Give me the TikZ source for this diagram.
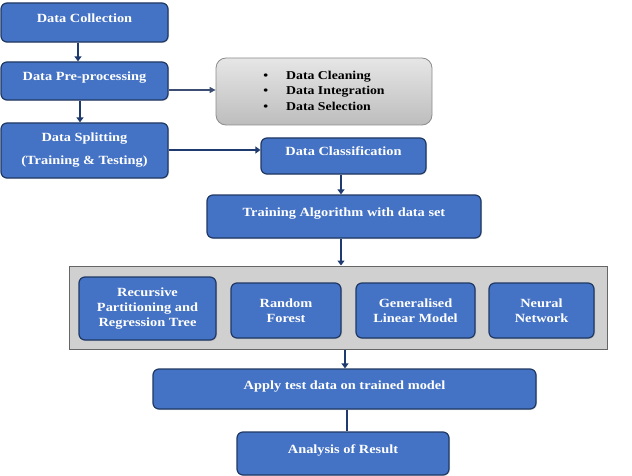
\documentclass[tikz,border=0pt]{standalone}
\usepackage{fontspec}
\setmainfont[FakeStretch=1.15]{Liberation Serif}
\usetikzlibrary{arrows.meta,shadows}
\definecolor{boxblue}{HTML}{4472C4}
\definecolor{boxline}{HTML}{1F3864}
\definecolor{arrowblue}{HTML}{1F3A6E}
\definecolor{graylight}{HTML}{E6E6E6}
\definecolor{graydark}{HTML}{BDBDBD}
\definecolor{grayline}{HTML}{8C8C8C}
\definecolor{panelgray}{HTML}{D0D0D0}
\tikzset{
  bluebox/.style={draw=boxline, line width=1.2pt, fill=boxblue, rounded corners=6pt,
    text=white, font=\fontsize{12.5}{15}\selectfont\bfseries, align=center, inner sep=0pt,
    drop shadow={shadow xshift=1pt, shadow yshift=-1pt, opacity=0.25}},
  onel/.style={text height=8pt, text depth=8pt},
  subbox/.style={bluebox, font=\fontsize{12.5}{15}\selectfont\bfseries},
  graybox/.style={draw=grayline, line width=0.8pt, top color=graylight, bottom color=graydark},
  flow/.style={draw=arrowblue, line width=2.2pt, -{Triangle[length=5pt,width=7pt]}},
  thinflow/.style={draw=arrowblue!70!gray, line width=1.2pt, -{Triangle[length=6pt,width=6pt]}},
  plainflow/.style={draw=arrowblue, line width=2.2pt}
}
\begin{document}
\begin{tikzpicture}[x=1pt,y=-1pt]
\useasboundingbox (0,0) rectangle (632,476);
% top-left column
\node[bluebox,onel,minimum width=167pt,minimum height=39pt] (dc) at (84.5,22.5) {Data Collection};
\node[bluebox,onel,minimum width=167pt,minimum height=38pt] (dp) at (84.5,81) {Data Pre-processing};
\node[bluebox,minimum width=167pt,minimum height=55pt] (ds) at (84.5,150.5)
  {Data Splitting\\[8pt](Training \& Testing)};
% preprocessing details
\node[graybox,rounded corners=10pt,minimum width=216pt,minimum height=67pt,inner sep=0pt,
  font=\fontsize{12}{15.5}\selectfont\bfseries] (pre) at (324,91.5)
  {\begin{tabular}{@{}c@{\hspace{18pt}}l@{}}\textbullet & Data Cleaning\\ \textbullet & Data Integration\\ \textbullet & Data Selection\end{tabular}};
% classification / training
\node[bluebox,onel,minimum width=165pt,minimum height=36pt] (cls) at (343.5,156) {Data Classification};
\node[bluebox,onel,minimum width=274pt,minimum height=43pt] (tr) at (344,216.5) {Training Algorithm with data set};
% algorithms panel
\node[draw=gray!80!black,line width=1pt,fill=panelgray,
  minimum width=538pt,minimum height=83pt,inner sep=0pt] (alg) at (338,307.5) {};
\node[subbox,minimum width=137pt,minimum height=63pt] (rp) at (147.5,308.5)
  {Recursive\\Partitioning and\\Regression Tree};
\node[subbox,minimum width=110pt,minimum height=55pt] (rf) at (286,310.5) {Random\\Forest};
\node[subbox,minimum width=119pt,minimum height=55pt] (glm) at (415.5,310.5) {Generalised\\Linear Model};
\node[subbox,minimum width=105pt,minimum height=55pt] (nn) at (541.5,310.5) {Neural\\Network};
% testing and analysis
\node[bluebox,onel,minimum width=383pt,minimum height=40pt] (ap) at (344.5,389) {Apply test data on trained model};
\node[bluebox,onel,minimum width=212pt,minimum height=43pt] (an) at (343,453.5) {Analysis of Result};
% connectors
\draw[flow] (dc.south -| 78,0) -- (dp.north -| 78,0);
\draw[flow] (dp.south -| 80,0) -- (ds.north -| 80,0);
\draw[thinflow] (dp.east |- 0,90) -- (pre.west |- 0,90);
\draw[flow] (ds.east |- 0,150) -- (cls.west |- 0,150);
\draw[flow] (cls.south -| 341,0) -- (tr.north -| 341,0);
\draw[flow] (tr.south -| 341,0) -- (alg.north -| 341,0);
\draw[flow] (alg.south -| 345,0) -- (ap.north -| 345,0);
\draw[plainflow] (ap.south -| 347,0) -- (an.north -| 347,0);
\end{tikzpicture}
\end{document}
